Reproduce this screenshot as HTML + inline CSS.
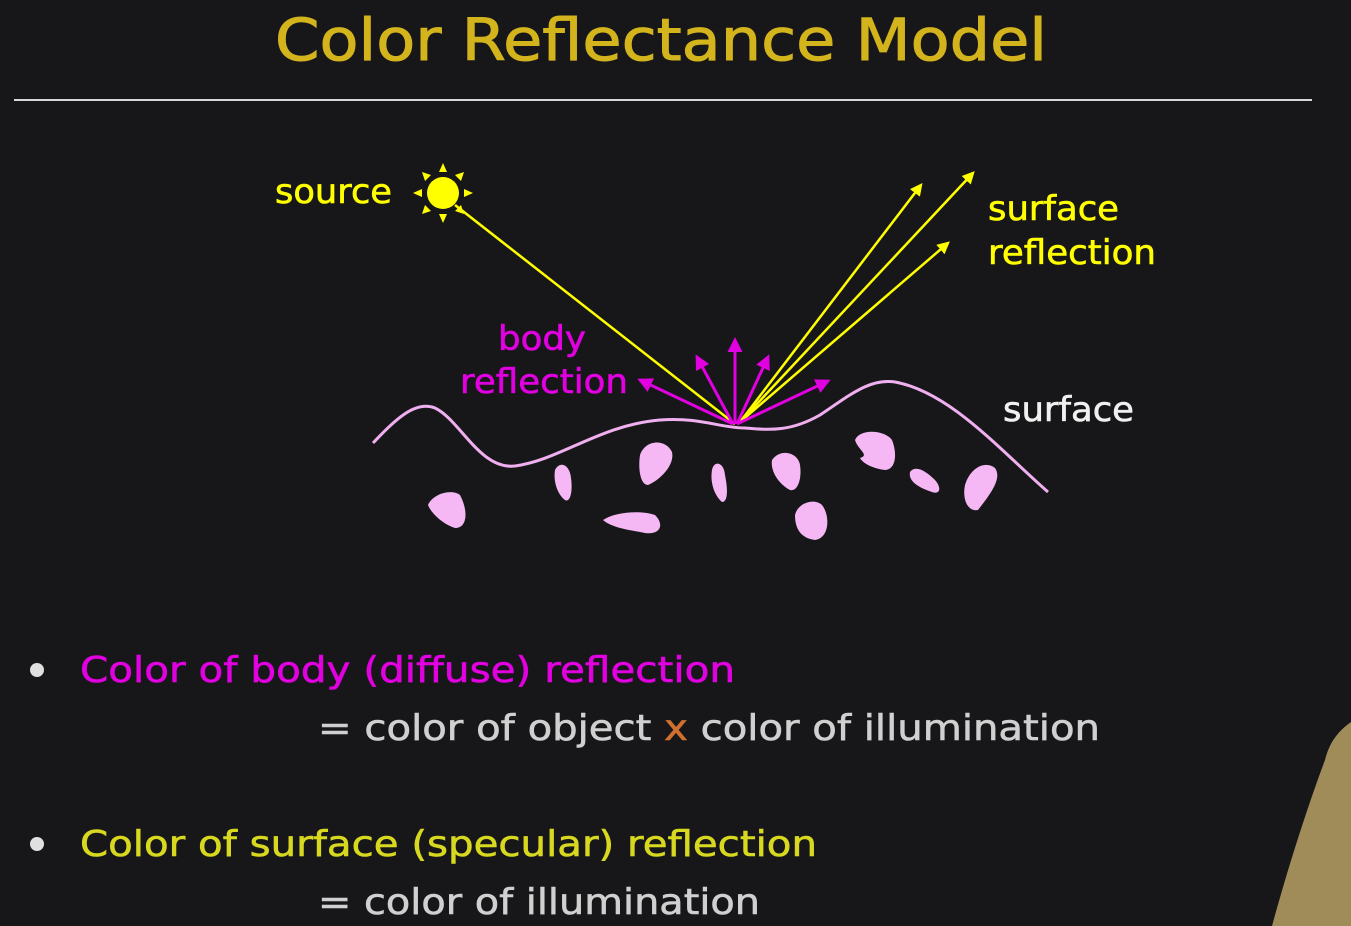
<!DOCTYPE html>
<html><head><meta charset="utf-8"><style>
html,body{margin:0;padding:0;background:#171719;}
svg{display:block;font-family:"DejaVu Sans","Liberation Sans",sans-serif;}
</style></head><body>
<svg width="1351" height="926" viewBox="0 0 1351 926">
<defs>
<marker id="ay" viewBox="0 0 10 10" refX="8" refY="5" markerWidth="5" markerHeight="5" orient="auto"><path d="M0,0L10,5L0,10z" fill="#ffff00"/></marker>
<marker id="am" viewBox="0 0 10 10" refX="8" refY="5" markerWidth="5" markerHeight="5" orient="auto"><path d="M0,0L10,5L0,10z" fill="#e000e0"/></marker>
</defs>
<rect width="1351" height="926" fill="#171719"/>
<text x="661" y="60" text-anchor="middle" font-size="58" fill="#d4b41c" stroke="#d4b41c" stroke-width="1" textLength="772" lengthAdjust="spacingAndGlyphs">Color Reflectance Model</text>
<line x1="14" y1="100" x2="1312" y2="100" stroke="#d8d8d8" stroke-width="2"/>

<g fill="#ffff00">
<circle cx="443" cy="193" r="16"/>
<path d="M443,163l-4,9h8z M443,223l-4,-9h8z M413,193l9,-4v8z M473,193l-9,-4v8z M422,172l9,3l-6,6z M464,172l-9,3l6,6z M422,214l9,-3l-6,-6z M464,214l-9,-3l6,-6z"/>
</g>
<line x1="455" y1="205" x2="735" y2="424" stroke="#ffff00" stroke-width="2.5"/>
<g stroke="#ffff00" stroke-width="2.5" marker-end="url(#ay)">
<line x1="740" y1="422" x2="921" y2="185"/>
<line x1="740" y1="422" x2="973" y2="173"/>
<line x1="740" y1="422" x2="948" y2="243"/>
</g>
<g stroke="#e000e0" stroke-width="3" marker-end="url(#am)">
<line x1="733" y1="424" x2="640" y2="380"/>
<line x1="733" y1="424" x2="697" y2="357"/>
<line x1="735" y1="424" x2="735" y2="340"/>
<line x1="737" y1="424" x2="768" y2="357"/>
<line x1="737" y1="424" x2="828" y2="381"/>
</g>
<path d="M373,443 C395,420 415,400 435,408 C460,420 480,470 515,466 C560,460 600,425 660,420 C700,417 720,428 745,428 C770,430 790,432 820,415 C850,395 870,378 895,382 C950,392 1000,450 1048,492" fill="none" stroke="#f0b0f0" stroke-width="3"/>
<g fill="#f5b8f5">
<path d="M428,505 C432,495 450,488 460,495 C468,510 468,528 455,528 C445,525 432,515 428,505z"/>
<path d="M555,470 C560,460 570,465 571,478 C573,492 570,503 565,500 C558,495 553,482 555,470z"/>
<path d="M603,520 C615,512 640,510 655,515 C665,525 660,535 645,533 C630,530 612,528 603,520z"/>
<path d="M640,455 C645,440 665,438 672,452 C675,465 660,480 648,485 C640,485 638,468 640,455z"/>
<path d="M712,470 C714,460 724,462 725,475 C728,490 728,502 722,502 C714,495 710,482 712,470z"/>
<path d="M772,460 C780,448 798,452 800,465 C802,478 798,492 790,490 C780,485 770,472 772,460z"/>
<path d="M795,515 C798,502 815,498 822,505 C830,515 830,538 815,540 C800,538 795,528 795,515z"/>
<path d="M855,440 C860,428 885,430 892,440 C898,455 895,470 885,470 C870,468 862,462 860,458 C870,455 858,450 855,440z"/>
<path d="M910,472 C915,465 925,470 935,480 C942,488 940,495 932,492 C920,488 908,482 910,472z"/>
<path d="M965,485 C970,468 985,460 995,468 C1002,478 992,492 978,510 C968,512 962,500 965,485z"/>
</g>
<g font-size="34" stroke-width="0.6">
<text x="275" y="203" fill="#ffff00" stroke="#ffff00" textLength="117" lengthAdjust="spacingAndGlyphs">source</text>
<text x="988" y="220" fill="#ffff00" stroke="#ffff00" textLength="131" lengthAdjust="spacingAndGlyphs">surface</text>
<text x="988" y="264" fill="#ffff00" stroke="#ffff00" textLength="168" lengthAdjust="spacingAndGlyphs">reflection</text>
<text x="498" y="350" fill="#e000e0" stroke="#e000e0" textLength="88" lengthAdjust="spacingAndGlyphs">body</text>
<text x="460" y="393" fill="#e000e0" stroke="#e000e0" textLength="168" lengthAdjust="spacingAndGlyphs">reflection</text>
<text x="1003" y="421" fill="#f0f0f0" stroke="#f0f0f0" textLength="131" lengthAdjust="spacingAndGlyphs">surface</text>
</g>
<g font-size="36" stroke-width="0.6">
<circle cx="37" cy="670" r="7" fill="#e0e0e0"/>
<text x="80" y="682" fill="#e000e0" stroke="#e000e0" textLength="655" lengthAdjust="spacingAndGlyphs">Color of body (diffuse) reflection</text>
<text x="318" y="740" fill="#d0d0d0" stroke="#d0d0d0" textLength="782" lengthAdjust="spacingAndGlyphs">= color of object <tspan fill="#d07030" stroke="#d07030">x</tspan> color of illumination</text>
<circle cx="37" cy="844" r="7" fill="#e0e0e0"/>
<text x="80" y="856" fill="#d8d820" stroke="#d8d820" textLength="737" lengthAdjust="spacingAndGlyphs">Color of surface (specular) reflection</text>
<text x="318" y="914" fill="#d0d0d0" stroke="#d0d0d0" textLength="442" lengthAdjust="spacingAndGlyphs">= color of illumination</text>
</g>
<path d="M1351,722 C1340,730 1330,740 1325,760 C1310,800 1290,860 1272,926 L1351,926z" fill="#a08c58"/>
</svg>
</body></html>
